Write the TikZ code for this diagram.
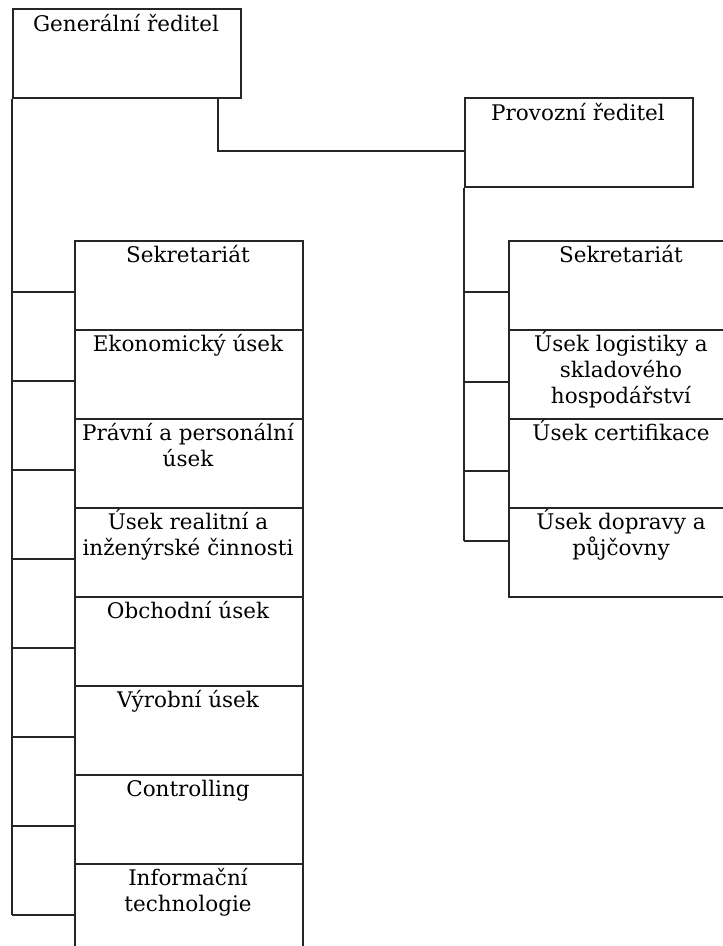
\documentclass[tikz,border=0pt]{standalone}
\usepackage{fontspec}
\setmainfont{DejaVu Serif}
% centred label block whose baseline is that of its first line
\newcommand\boxlabel[1]{\begin{tabular}[t]{@{}c@{}}#1\end{tabular}}
\begin{document}
\begin{tikzpicture}[x=1pt,y=-1pt,
  box/.style={draw=black!85, line width=1.5pt, rectangle, inner sep=0pt, anchor=north west},
  unit/.style={box, minimum width=228pt, minimum height=89pt},
  runit/.style={box, minimum width=226pt, minimum height=89pt},
  head/.style={box, minimum width=228pt, minimum height=89pt},
  caption/.style={inner sep=0pt, anchor=base,
    font=\fontsize{21.5}{26.3}\selectfont},
  link/.style={draw=black!85, line width=1.5pt}]
\useasboundingbox (0,0) rectangle (723,946);
\clip (0,0) rectangle (723,946);

% directors
\node[head] (gr) at (12,8) {};
\node[caption] (grt) at (126,31) {\boxlabel{Generální ředitel}};
\node[head] (pr) at (464,97) {};
\node[caption] (prt) at (578,120) {\boxlabel{Provozní ředitel}};

% link from the general director to the operations director
\coordinate (grdrop) at (218,98.5);
\coordinate (grbend) at (218,151);
\draw[link] (grdrop) -- (grbend) -- (grbend -| pr.west);

% left column of departments
\foreach \i/\txt in {0/{Sekretariát},1/{Ekonomický úsek},2/{Právní a personální\\úsek},
    3/{Úsek realitní a\\inženýrské činnosti},4/{Obchodní úsek},5/{Výrobní úsek},
    6/{Controlling},7/{Informační\\technologie}}{
  \node[unit] (l\i) at (74,240+89*\i) {};
  \node[caption] (lt\i) at (188,262+89*\i) {\boxlabel{\txt}};
  \coordinate (lc\i) at (12,292+89*\i);
  \draw[link] (lc\i) -- (lc\i -| l\i.west);
}
\draw[link] (gr.south west) -- (lc7);

% right column of departments
\foreach \i/\txt in {0/{Sekretariát},1/{Úsek logistiky a\\skladového\\hospodářství},
    2/{Úsek certifikace},3/{Úsek dopravy a\\půjčovny}}{
  \node[runit] (r\i) at (508,240+89*\i) {};
  \node[caption] (rt\i) at (621,262+89*\i) {\boxlabel{\txt}};
}
\foreach \i/\yy in {0/292,1/382,2/471,3/541}{
  \coordinate (rc\i) at (464,\yy);
  \draw[link] (rc\i) -- (rc\i -| r\i.west);
}
\draw[link] (pr.south west) -- (rc3);
\end{tikzpicture}
\end{document}
